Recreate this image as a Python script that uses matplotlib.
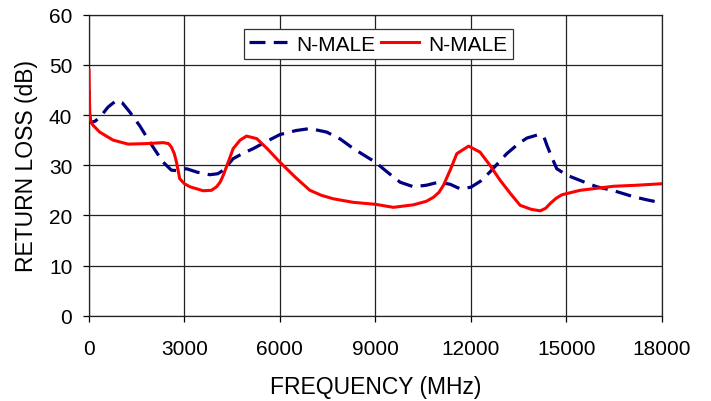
#!/usr/bin/env python

import matplotlib
matplotlib.use('Agg')
import matplotlib.pyplot as plt

# frequency (MHz) / return loss (dB)
blue_freq = [0, 20, 60, 200, 400, 600, 860, 1050, 1280, 1600, 1910, 2150, 2330, 2590, 2800,
             3060, 3400, 3800, 4050, 4220, 4530, 4850, 5160, 5600, 6000, 6500, 6940,
             7470, 7900, 8310, 9000, 9400, 9780, 10196, 10600, 10980, 11350, 11660,
             12000, 12300, 12610, 13130, 13500, 13760, 14130, 14300, 14390, 14550,
             14700, 15020, 15500, 15960, 16500, 17120, 17600, 18000]
blue_rl = [45, 40, 38.5, 38.8, 40.0, 41.6, 42.9, 42.4, 40.6, 37.8, 34.6, 32.3, 30.6, 29.0, 28.9,
           29.3, 28.6, 28.1, 28.3, 29.0, 31.3, 32.4, 33.3, 34.8, 36.1, 36.9, 37.3,
           36.6, 35.2, 33.3, 30.6, 28.5, 26.6, 25.7, 26.0, 26.6, 26.2, 25.3,
           25.6, 26.8, 28.7, 32.3, 34.3, 35.4, 36.1, 35.6, 34.0, 31.5,
           29.3, 28.0, 26.8, 25.7, 24.9, 23.7, 23.0, 22.5]

red_freq = [0, 10, 30, 120, 335, 755, 1230, 1800, 2330, 2500, 2590, 2680, 2750, 2850,
            3000, 3170, 3590, 3850, 4010, 4120, 4220, 4380, 4530, 4750, 4950, 5270,
            5600, 6000, 6500, 6940, 7300, 7680, 8300, 9000, 9566, 10196, 10600,
            10825, 11000, 11140, 11350, 11560, 11930, 12290, 12600, 12920, 13250,
            13550, 13900, 14180, 14350, 14500, 14680, 14860, 15440, 16490, 17200, 18000]
red_rl = [49, 44, 39.2, 38.0, 36.6, 35.0, 34.2, 34.3, 34.5, 34.3, 33.6, 32.3, 30.6, 27.3,
          26.3, 25.7, 24.9, 25.0, 25.7, 26.6, 28.0, 30.7, 33.3, 35.0, 35.8, 35.3,
          33.3, 30.6, 27.5, 25.0, 24.0, 23.3, 22.6, 22.2, 21.6, 22.1, 22.8,
          23.6, 24.6, 26.0, 29.0, 32.3, 33.8, 32.6, 30.0, 27.0, 24.3,
          22.0, 21.2, 20.9, 21.4, 22.4, 23.4, 24.1, 25.0, 25.8, 26.0, 26.3]

x_ticks = [0, 3000, 6000, 9000, 12000, 15000, 18000]
y_ticks = [0, 10, 20, 30, 40, 50, 60]


def main():
    plt.rcParams['font.family'] = ['Liberation Sans', 'DejaVu Sans']

    fig = plt.figure(figsize=(7.11, 4.02), dpi=100)
    ax = fig.add_axes([0.1252, 0.2122, 0.8055, 0.7488])

    ax.plot(blue_freq, blue_rl, color='#000080', lw=2.3, dashes=(5, 2.6),
            label='N-MALE', zorder=3)
    ax.plot(red_freq, red_rl, color='#ff0000', lw=2.2, label='N-MALE', zorder=4)

    ax.set_xlim(0, 18000)
    ax.set_ylim(0, 60)
    ax.set_xticks(x_ticks)
    ax.set_yticks(y_ticks)
    ax.grid(True, color='#222222', lw=0.9)
    ax.set_axisbelow(True)
    for s in ax.spines.values():
        s.set_color('#222222')
        s.set_linewidth(0.9)
    ax.tick_params(direction='out', length=4, width=0.9, labelsize=15)
    ax.tick_params(axis='x', pad=13)
    ax.tick_params(axis='y', pad=8)

    ax.set_xlabel('FREQUENCY (MHz)', fontsize=16.5, labelpad=12)
    ax.set_ylabel('RETURN LOSS (dB)', fontsize=16.5, labelpad=8)

    leg = ax.legend(loc='upper center', bbox_to_anchor=(0.505, 0.965), ncol=2,
                    fontsize=15, frameon=True, fancybox=False, handlelength=1.8,
                    handletextpad=0.45, columnspacing=0.3, borderpad=0.25,
                    borderaxespad=0.2)
    leg.get_frame().set_edgecolor('#333333')
    leg.get_frame().set_linewidth(0.9)
    leg.get_frame().set_alpha(1)

    fig.savefig('out.png', dpi=100)


if __name__ == "__main__":
    main()
